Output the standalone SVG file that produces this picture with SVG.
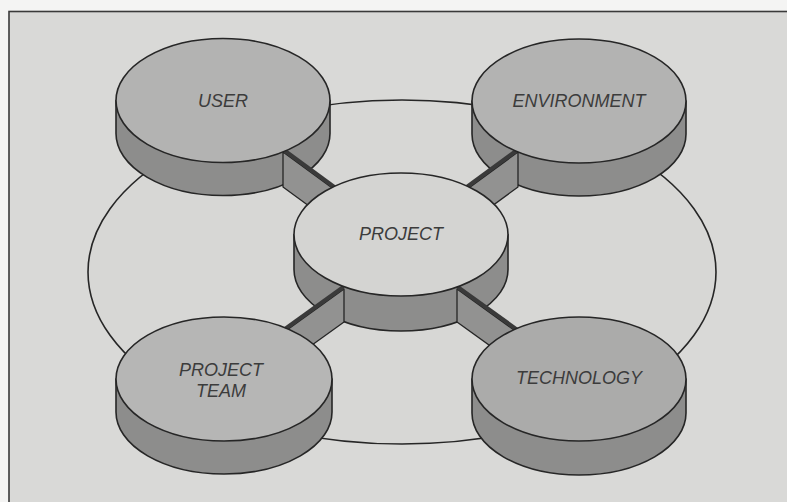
<svg xmlns="http://www.w3.org/2000/svg" width="787" height="502" viewBox="0 0 787 502">
<style>
.top{fill:#b3b3b2;stroke:#262626;stroke-width:1.6}
.ptop{fill:#d4d4d2;stroke:#262626;stroke-width:1.6}
.side{fill:#8d8d8c;stroke:#262626;stroke-width:1.6;stroke-linejoin:round}
.face{fill:#929291;stroke:#262626;stroke-width:1.3;stroke-linejoin:round}
.stripe{fill:#3a3a3a;stroke:none}
.lbl{font-family:"Liberation Sans",Arial,sans-serif;font-style:italic;font-size:18px;fill:#3c3c3c;text-anchor:middle}
</style>
<rect x="0" y="0" width="787" height="502" fill="#f4f4f3"/>
<rect x="9" y="11.5" width="800" height="520" fill="#d9d9d7" stroke="#3a3a3a" stroke-width="1.6"/>
<ellipse id="ring" cx="402" cy="272" rx="314" ry="172" fill="#d7d7d5" stroke="#262626" stroke-width="1.6"/>

<g id="user-side"><path class="side" d="M116,100.5 L116,133.5 A107,62 0 0 0 330,133.5 L330,100.5 Z"/></g>
<g id="environment-side"><path class="side" d="M472,101 L472,134 A107,62 0 0 0 686,134 L686,101 Z"/></g>

<g id="connectors-upper">
<polygon class="face" points="283,152 365,212 365,247 283,187"/>
<polygon class="stripe" points="275,141 365,207 365,212 275,146"/>
<polygon class="face" points="518,152 436,212 436,247 518,187"/>
<polygon class="stripe" points="526,141 436,207 436,212 526,146"/>
</g>

<g id="user"><ellipse class="top" cx="223" cy="100.5" rx="107" ry="62"/><text class="lbl" x="223" y="107">USER</text></g>
<g id="environment"><ellipse class="top" cx="579" cy="101" rx="107" ry="62"/><text class="lbl" x="579" y="107">ENVIRONMENT</text></g>

<g id="project-side"><path class="side" d="M294,234.5 L294,269.5 A107,61.5 0 0 0 508,269.5 L508,234.5 Z"/></g>

<g id="connectors-lower">
<polygon class="face" points="344,289 255,353 255,386 344,322"/>
<polygon class="stripe" points="344,284 255,348 255,353 344,289"/>
<polygon class="face" points="457,289 546,353 546,386 457,322"/>
<polygon class="stripe" points="457,284 546,348 546,353 457,289"/>
</g>

<g id="project"><ellipse class="ptop" cx="401" cy="234.5" rx="107" ry="61.5"/><text class="lbl" x="401" y="240">PROJECT</text></g>

<g id="project-team">
<path class="side" d="M116,379 L116,412 A108,62 0 0 0 332,412 L332,379 Z"/>
<ellipse class="top" cx="224" cy="379" rx="108" ry="62" style="fill:#b6b6b5"/>
<text class="lbl" x="221" y="375.5">PROJECT</text>
<text class="lbl" x="221" y="396.5">TEAM</text>
</g>
<g id="technology">
<path class="side" d="M472,379 L472,413 A107,62 0 0 0 686,413 L686,379 Z"/>
<ellipse class="top" cx="579" cy="379" rx="107" ry="62" style="fill:#ababaa"/>
<text class="lbl" x="579" y="383.5">TECHNOLOGY</text>
</g>
</svg>
